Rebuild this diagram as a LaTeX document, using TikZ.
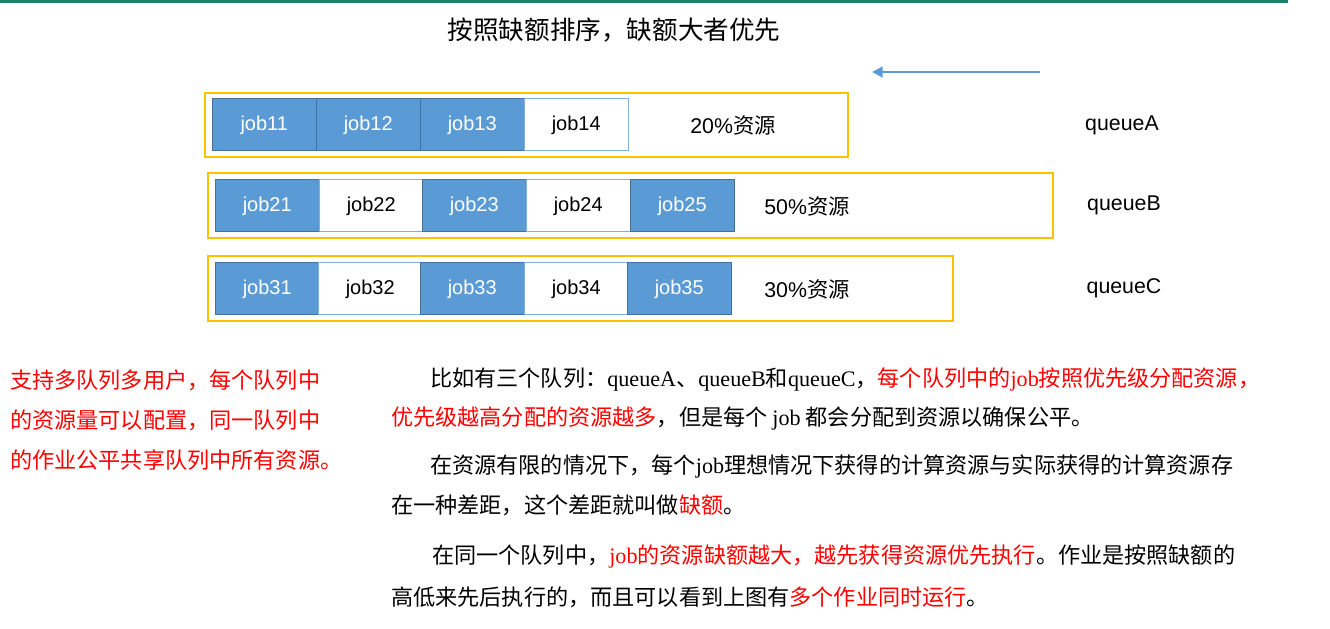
\documentclass[tikz,border=0pt]{standalone}
\usepackage{fontspec}
\usetikzlibrary{arrows.meta}
\setmainfont{Liberation Serif}
\setsansfont{Liberation Sans}
\newfontfamily\cjk{Noto Sans CJK SC}
\definecolor{topgreen}{HTML}{1F7F68}
\definecolor{jobblue}{HTML}{5B9BD5}
\definecolor{jobedge}{HTML}{41719C}
\definecolor{lightedge}{HTML}{7FB0DF}
\definecolor{qyellow}{HTML}{FFC000}
\definecolor{redtxt}{HTML}{FF0000}
\tikzset{
  jobbase/.style={minimum width=104*0.75pt,minimum height=52*0.75pt,inner sep=0pt,text height=0.88em,text depth=0pt,font=\sffamily\fontsize{15}{18}\selectfont},
  job/.style={jobbase,draw=jobedge,fill=jobblue,text=white},
  jobw/.style={jobbase,draw=lightedge,fill=white,text=black},
  qbox/.style={draw=qyellow,line width=1.5pt},
  lbl/.style={font=\cjk\fontsize{16}{19}\selectfont,inner sep=0pt},
  body/.style={font=\cjk\fontsize{16.6}{20}\selectfont,inner sep=0pt,anchor=west},
}
\newcommand{\rd}[1]{\textcolor{redtxt}{#1}}
\newcommand{\lt}[1]{{\rmfamily #1}}
\begin{document}
\begin{tikzpicture}[x=0.75pt,y=-0.75pt]
\path[use as bounding box,fill=white] (0,0) rectangle (1330,628);
\fill[topgreen] (0,0) rectangle (1288,2.5);
\node[font=\cjk\fontsize{19.2}{22}\selectfont,inner sep=0pt] (title) at (614,30) {按照缺额排序，缺额大者优先};
\coordinate (arrS) at (1040,72);
\coordinate (arrE) at (872,72);
\draw[jobblue,line width=1.4pt,-{Triangle[length=8pt,width=8pt]}] (arrS) -- (arrE);
% queue A
\node[qbox,minimum width=643*0.75pt,minimum height=64*0.75pt,anchor=north west,inner sep=0pt] (qA) at (204,92) {};
\node[job,anchor=north west] (j11) at (212,98) {job11};
\node[job,anchor=north west] (j12) at (316,98) {job12};
\node[job,anchor=north west] (j13) at (420,98) {job13};
\node[jobw,anchor=north west] (j14) at (524,98) {job14};
\node[lbl] (rA) at (733,125) {{\sffamily 20\%}资源};
\node[lbl] (nA) at (1122,125) {\sffamily queueA};
% queue B
\node[qbox,minimum width=845*0.75pt,minimum height=65*0.75pt,anchor=north west,inner sep=0pt] (qB) at (207,172) {};
\node[job,anchor=north west] (j21) at (215,179) {job21};
\node[jobw,anchor=north west] (j22) at (319,179) {job22};
\node[job,anchor=north west] (j23) at (422,179) {job23};
\node[jobw,anchor=north west] (j24) at (526,179) {job24};
\node[job,anchor=north west] (j25) at (630,179) {job25};
\node[lbl] (rB) at (807,206) {{\sffamily 50\%}资源};
\node[lbl] (nB) at (1124,205) {\sffamily queueB};
% queue C
\node[qbox,minimum width=745*0.75pt,minimum height=65*0.75pt,anchor=north west,inner sep=0pt] (qC) at (207,255) {};
\node[job,anchor=north west] (j31) at (215,262) {job31};
\node[jobw,anchor=north west] (j32) at (318,262) {job32};
\node[job,anchor=north west] (j33) at (420,262) {job33};
\node[jobw,anchor=north west] (j34) at (524,262) {job34};
\node[job,anchor=north west] (j35) at (627,262) {job35};
\node[lbl] (rC) at (807,289) {{\sffamily 30\%}资源};
\node[lbl] (nC) at (1124,288) {\sffamily queueC};
% left red text
\node[body,text=redtxt] (l1) at (10,380) {支持多队列多用户，每个队列中};
\node[body,text=redtxt] (l2) at (10,420) {的资源量可以配置，同一队列中};
\node[body,text=redtxt] (l3) at (10,460) {的作业公平共享队列中所有资源。};
% body text
\node[body] (b1) at (430,379) {比如有三个队列：\lt{queueA}、\lt{queueB}和\lt{queueC}，\rd{每个队列中的\lt{job}按照优先级分配资源，}};
\node[body] (b2) at (391,418) {\rd{优先级越高分配的资源越多}，但是每个 \lt{job} 都会分配到资源以确保公平。};
\node[body] (b3) at (430,466) {在资源有限的情况下，每个\lt{job}理想情况下获得的计算资源与实际获得的计算资源存};
\node[body] (b4) at (391,505) {在一种差距，这个差距就叫做\rd{缺额}。};
\node[body] (b5) at (432,556) {在同一个队列中，\rd{\lt{job}的资源缺额越大，越先获得资源优先执行}。作业是按照缺额的};
\node[body] (b6) at (391,597) {高低来先后执行的，而且可以看到上图有\rd{多个作业同时运行}。};
\end{tikzpicture}
\end{document}
